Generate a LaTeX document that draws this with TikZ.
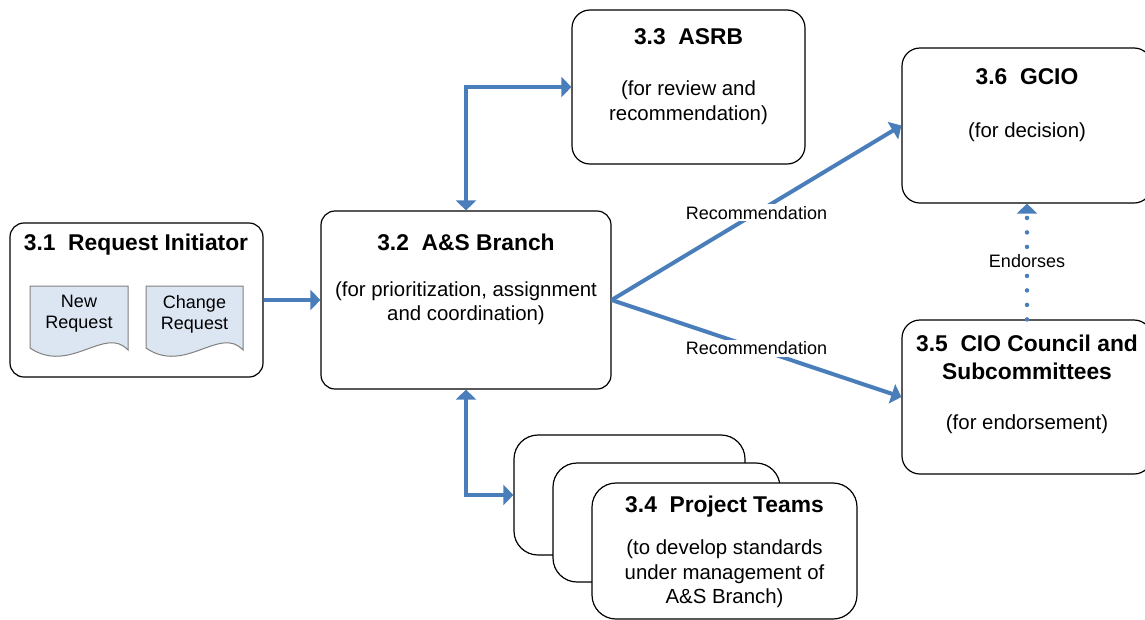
\documentclass[tikz,border=0pt]{standalone}
\usepackage{fontspec}
\setmainfont{Liberation Sans}
\usetikzlibrary{arrows.meta}
\definecolor{connblue}{RGB}{74,126,187}
\definecolor{docfill}{RGB}{220,230,242}
\definecolor{docline}{RGB}{128,128,128}
\begin{document}
\begin{tikzpicture}[x=1pt,y=-1pt,
  box/.style={draw=black, line width=1.2pt, fill=white, rounded corners=14pt, inner sep=0pt},
  bigbox/.style={box, rounded corners=24pt},
  ttl/.style={font=\fontsize{22.8}{28}\selectfont\bfseries, align=center, inner sep=0pt},
  bdy/.style={font=\fontsize{20.4}{24.5}\selectfont, align=center, inner sep=0pt},
  lbl/.style={font=\fontsize{18}{20}\selectfont, fill=white, inner sep=2pt},
  doctxt/.style={font=\fontsize{18}{21}\selectfont, align=center, inner sep=0pt},
  docshape/.style={draw=docline, line width=1pt, fill=docfill},
  link/.style={draw=connblue, line width=4pt, -{Triangle[length=10pt,width=20pt]}},
  dlink/.style={draw=connblue, line width=4pt, {Triangle[length=10pt,width=20pt]}-{Triangle[length=10pt,width=20pt]}},
  dotlink/.style={draw=connblue, line width=4.5pt, line cap=round, dash pattern=on 0pt off 14.5pt, -{Triangle[length=10pt,width=20pt]}}
]
\useasboundingbox (0,0) rectangle (1145,619);
\clip (0,0) rectangle (1145,619);

% 3.1 Request Initiator
\node[box, minimum width=253pt, minimum height=154pt] (b31) at (136.5,300) {};
\node[ttl] (t31) at (136,245) {3.1~~Request Initiator};
\draw[docshape] (30,286) -- (128,286) -- (128,350) .. controls (105,325) and (70,375) .. (30,348) -- cycle;
\node[doctxt] (dnew) at (79,314) {New\\Request};
\draw[docshape] (146,286) -- (243,286) -- (243,350) .. controls (220,325) and (185,375) .. (146,348) -- cycle;
\node[doctxt] (dchg) at (194.5,314) {Change\\Request};

% 3.2 A&S Branch
\node[box, minimum width=290pt, minimum height=178pt] (b32) at (466,300) {};
\node[ttl] (t32) at (466,242) {3.2~~A\&S Branch};
\node[bdy] (d32) at (466,303) {(for prioritization, assignment\\and coordination)};

% 3.3 ASRB
\node[box, rounded corners=18pt, minimum width=233pt, minimum height=154pt] (b33) at (688.5,87) {};
\node[ttl] (t33) at (688.5,37) {3.3~~ASRB};
\node[bdy] (d33) at (688.5,102.5) {(for review and\\recommendation)};

% 3.6 GCIO
\node[box, rounded corners=18pt, minimum width=250pt, minimum height=155pt] (b36) at (1027,125.5) {};
\node[ttl] (t36) at (1027,77) {3.6~~GCIO};
\node[bdy] (d36) at (1027,132) {(for decision)};

% 3.5 CIO Council
\node[box, rounded corners=18pt, minimum width=250pt, minimum height=154pt] (b35) at (1027,397) {};
\node[ttl] (t35) at (1027,357) {3.5~~CIO Council and\\Subcommittees};
\node[bdy] (d35) at (1027,424) {(for endorsement)};

% 3.4 Project Teams (stack)
\node[bigbox, minimum width=231pt, minimum height=120pt] (b34a) at (629.5,495) {};
\node[bigbox, minimum width=227pt, minimum height=119pt] (b34b) at (666.5,522.5) {};
\node[bigbox, minimum width=265pt, minimum height=136pt] (b34c) at (724.5,551) {};
\node[ttl] (t34) at (724.5,507) {3.4~~Project Teams};
\node[bdy] (d34) at (724.5,574) {(to develop standards\\under management of\\A\&S Branch)};

% connectors
\draw[link] (b31.east) -- (b32.west);
\draw[dlink] (b32.north) |- (b33.west);
\draw[dlink] (b32.south) |- (b34a.west);
\draw[link] (b32.east) -- node[lbl] (r1) {Recommendation} (b36.west);
\draw[link] (b32.east) -- node[lbl] (r2) {Recommendation} (b35.west);
\draw[dotlink] (b35.north) -- node[lbl] (e1) {Endorses} (b36.south);
\end{tikzpicture}
\end{document}
